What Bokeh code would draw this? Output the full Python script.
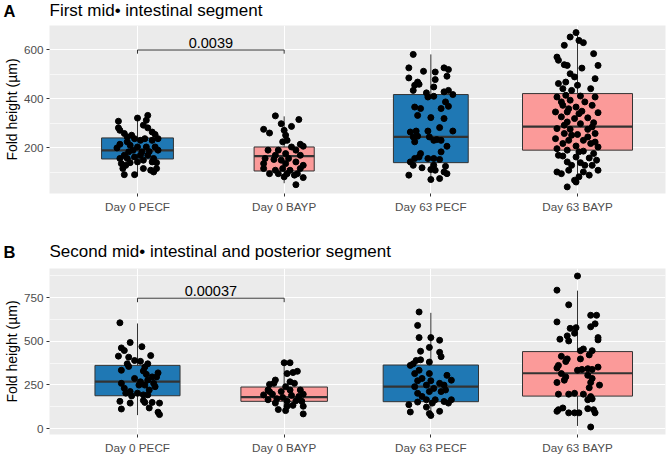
from bokeh.plotting import figure
from bokeh.layouts import column
from bokeh.models import ColumnDataSource, FixedTicker, Range1d
from bokeh.embed import file_html
from bokeh.resources import INLINE
from bokeh.core.properties import value

groups = ["Day 0 PECF", "Day 0 BAYP", "Day 63 PECF", "Day 63 BAYP"]
group_fill = ["#1F78B4", "#FB9A99", "#1F78B4", "#FB9A99"]

# ---------------- Panel A: First mid-intestinal segment ----------------
a_letter = "A"
a_title = "First mid\u2022 intestinal segment"
a_q1 = [155, 106, 140, 191]
a_med = [190, 167, 245, 287]
a_q3 = [241, 204, 418, 422]
a_lo = [84, 56, 72, 48]
a_hi = [317, 329, 582, 667]
a_box_w = [0.49, 0.41, 0.51, 0.75]
a_yticks = [200, 400, 600]
a_yminor = [100, 300, 500, 700]
a_pval = "0.0039"
a_bracket_y = 600

a_day0_pecf = [(0.07, 333), (0.06, 313), (0.00, 322), (-0.13, 309), (-0.13, 282), (-0.12, 272), (0.07, 282),
               (0.04, 293), (0.10, 265), (-0.09, 259), (-0.07, 245), (-0.04, 252), (-0.02, 238), (-0.07, 225),
               (-0.05, 211), (0.02, 231), (0.05, 238), (0.10, 231), (0.14, 238), (0.00, 204), (-0.03, 191),
               (-0.06, 184), (0.03, 184), (0.06, 204), (0.12, 204), (0.14, 191), (-0.09, 170), (-0.12, 157),
               (-0.07, 157), (-0.02, 163), (0.02, 170), (0.07, 170), (0.11, 157), (-0.11, 136), (-0.08, 129),
               (-0.05, 140), (0.00, 143), (0.04, 150), (0.10, 143), (0.13, 140), (-0.10, 116), (0.04, 116),
               (0.09, 109), (0.11, 102), (0.13, 116), (-0.09, 91), (-0.02, 91), (-0.14, 200), (-0.12, 215),
               (0.12, 255), (0.08, 185)]
a_day0_bayp = [(-0.06, 331), (0.10, 316), (-0.02, 299), (0.05, 288), (-0.14, 276), (-0.10, 261), (0.00, 272),
               (0.01, 252), (-0.01, 225), (0.02, 231), (0.11, 215), (0.13, 207), (0.05, 204), (-0.11, 191),
               (-0.04, 191), (0.08, 191), (0.01, 177), (-0.06, 170), (0.11, 170), (-0.13, 157), (-0.07, 153),
               (0.03, 157), (-0.02, 150), (0.08, 143), (-0.14, 136), (0.01, 136), (0.13, 129), (-0.14, 116),
               (-0.06, 109), (-0.01, 116), (0.04, 109), (0.11, 116), (-0.10, 95), (-0.04, 95), (0.02, 95),
               (0.07, 89), (0.09, 95), (0.00, 82), (0.13, 79), (0.08, 50)]
a_day63_pecf = [(-0.12, 582), (-0.15, 527), (-0.05, 513), (0.09, 527), (0.12, 520), (0.03, 510), (-0.15, 486),
                (0.11, 493), (0.03, 479), (-0.09, 469), (-0.11, 456), (-0.08, 460), (0.02, 449), (-0.12, 435),
                (-0.03, 425), (0.09, 429), (0.12, 435), (0.15, 418), (-0.02, 408), (0.02, 411), (0.10, 388),
                (-0.11, 367), (-0.07, 361), (0.07, 361), (0.12, 370), (-0.09, 333), (0.00, 324), (0.09, 320),
                (0.06, 283), (-0.14, 265), (-0.10, 269), (-0.02, 269), (0.15, 269), (-0.12, 245), (-0.09, 248),
                (-0.01, 245), (0.04, 234), (0.02, 231), (0.07, 231), (-0.11, 225), (0.11, 207), (-0.07, 177),
                (0.07, 184), (-0.11, 157), (-0.14, 143), (-0.08, 163), (-0.02, 157), (0.02, 157), (0.06, 153),
                (-0.12, 129), (-0.06, 119), (0.02, 129), (0.10, 125), (-0.15, 89), (0.00, 112), (0.03, 109),
                (0.09, 102), (0.06, 75), (0.00, 71), (0.11, 95)]
a_day63_bayp = [(-0.01, 671), (-0.05, 653), (0.01, 639), (0.04, 630), (-0.09, 619), (0.11, 585), (-0.14, 571),
                (-0.13, 558), (-0.07, 537), (-0.09, 540), (0.03, 526), (0.14, 537), (-0.05, 503), (-0.02, 490),
                (0.12, 483), (-0.13, 463), (-0.08, 469), (0.00, 456), (-0.10, 442), (-0.04, 435), (0.09, 442),
                (-0.08, 415), (0.02, 412), (-0.14, 408), (0.12, 408), (-0.05, 395), (0.05, 388), (-0.10, 374),
                (0.10, 374), (-0.01, 367), (-0.15, 347), (-0.07, 347), (0.03, 350), (0.14, 344), (-0.11, 327),
                (-0.02, 320), (0.07, 323), (-0.07, 306), (0.02, 299), (0.11, 303), (-0.14, 279), (-0.05, 276),
                (0.07, 276), (-0.09, 259), (0.00, 255), (0.12, 259), (-0.15, 238), (-0.06, 231), (0.04, 231),
                (-0.10, 218), (0.09, 218), (-0.01, 208), (0.14, 204), (-0.14, 197), (-0.07, 191), (0.04, 187),
                (0.11, 177), (-0.10, 167), (-0.01, 163), (0.08, 159), (0.13, 150), (-0.07, 143), (0.02, 140),
                (0.10, 129), (-0.14, 102), (-0.06, 109), (0.04, 102), (0.14, 109), (-0.11, 95), (0.01, 82),
                (0.08, 89), (-0.01, 61), (-0.07, 41), (-0.02, 68), (-0.11, 388), (0.01, 340), (-0.09, 293),
                (0.10, 286), (-0.04, 252), (0.07, 245), (0.01, 184), (-0.13, 170), (0.05, 129), (-0.04, 129),
                (0.12, 224), (-0.06, 360)]

# ---------------- Panel B: Second mid-intestinal and posterior segment ----------------
b_letter = "B"
b_title = "Second mid\u2022 intestinal and posterior segment"
b_q1 = [188, 156, 154, 186]
b_med = [269, 180, 240, 317]
b_q3 = [362, 238, 364, 441]
b_lo = [77, 86, 75, 15]
b_hi = [602, 383, 663, 790]
b_box_w = [0.58, 0.59, 0.65, 0.75]
b_yticks = [0, 250, 500, 750]
b_yminor = [125, 375, 625, 875]
b_pval = "0.00037"
b_bracket_y = 747

b_day0_pecf = [(-0.12, 606), (-0.05, 493), (0.03, 469), (-0.11, 462), (-0.13, 415), (-0.09, 447), (-0.06, 409),
               (0.09, 418), (-0.02, 390), (0.02, 385), (-0.07, 371), (0.07, 371), (-0.06, 356), (0.05, 353),
               (-0.11, 334), (0.04, 330), (0.06, 311), (0.14, 319), (-0.02, 287), (0.10, 296), (0.13, 296),
               (0.02, 268), (0.07, 278), (0.11, 259), (-0.11, 259), (0.01, 249), (0.05, 249), (-0.09, 231),
               (0.12, 240), (-0.05, 212), (0.08, 221), (-0.08, 203), (0.00, 203), (0.04, 193), (-0.04, 187),
               (0.07, 193), (-0.12, 156), (-0.05, 146), (0.04, 161), (0.10, 150), (0.15, 146), (-0.11, 112),
               (0.05, 150), (0.08, 118), (0.14, 94), (0.15, 80)]
b_day0_bayp = [(0.00, 377), (0.04, 377), (0.02, 315), (0.06, 321), (0.09, 328), (-0.06, 278), (-0.07, 259),
               (0.04, 268), (0.07, 259), (-0.10, 253), (0.01, 240), (-0.11, 221), (-0.02, 212), (0.04, 221),
               (0.11, 221), (-0.14, 193), (-0.08, 197), (-0.01, 178), (0.05, 190), (0.10, 184), (0.13, 197),
               (-0.11, 165), (-0.05, 171), (0.02, 156), (0.08, 159), (0.12, 156), (0.02, 128), (0.06, 133),
               (-0.04, 109), (0.13, 128), (0.01, 103), (0.13, 84), (-0.10, 212), (-0.06, 146)]
b_day63_pecf = [(-0.08, 668), (-0.09, 591), (-0.08, 521), (0.00, 521), (0.06, 506), (-0.01, 465), (-0.07, 443),
                (0.06, 437), (0.07, 412), (-0.10, 390), (-0.07, 394), (-0.01, 381), (-0.14, 362), (-0.12, 371),
                (-0.08, 334), (-0.11, 315), (-0.01, 315), (0.11, 305), (-0.06, 287), (0.00, 274), (0.14, 277),
                (-0.09, 274), (0.06, 259), (0.09, 249), (-0.11, 240), (-0.03, 249), (0.02, 230), (0.10, 221),
                (-0.09, 202), (-0.01, 212), (0.07, 212), (-0.06, 184), (0.14, 165), (-0.09, 152), (-0.03, 165),
                (0.03, 165), (0.09, 155), (-0.15, 137), (0.01, 146), (-0.03, 123), (0.06, 99), (-0.14, 95),
                (-0.01, 86), (0.00, 75), (0.12, 146)]
b_day63_bayp = [(0.00, 874), (-0.14, 793), (-0.06, 709), (0.09, 649), (0.13, 649), (-0.14, 611), (0.12, 600),
                (0.09, 583), (-0.05, 574), (-0.01, 578), (-0.02, 546), (-0.07, 531), (-0.12, 512), (0.14, 521),
                (0.14, 508), (-0.06, 502), (0.04, 456), (0.02, 446), (0.10, 446), (0.08, 422), (-0.11, 414),
                (-0.07, 399), (0.02, 399), (-0.08, 384), (-0.13, 362), (-0.14, 347), (0.14, 352), (0.00, 334),
                (0.03, 339), (0.07, 343), (0.10, 339), (-0.11, 315), (-0.08, 296), (0.07, 305), (0.10, 287),
                (-0.14, 264), (-0.09, 277), (0.09, 264), (0.15, 249), (0.08, 234), (-0.13, 197), (-0.06, 197),
                (-0.02, 202), (0.04, 197), (0.09, 183), (0.07, 165), (0.10, 170), (-0.10, 118), (-0.14, 99),
                (-0.06, 90), (-0.02, 90), (0.01, 90), (0.07, 114), (0.11, 108), (0.12, 90), (-0.13, 108),
                (0.09, 9)]

FONT = "Liberation Sans"
W = 667


def make_header(letter, title, height, center):
    # the panel letter is drawn as the header's own (tick-less) y-axis label, the title as text
    h = figure(width=W, height=height, output_backend="svg", toolbar_location=None,
               x_range=Range1d(0, 1), y_range=Range1d(height, 0),
               x_axis_location=None, y_axis_location="left", min_border=0,
               min_border_left=0, min_border_right=0, min_border_top=0, min_border_bottom=0)
    h.title = None
    h.grid.visible = False
    h.outline_line_color = None
    h.background_fill_color = "white"
    h.border_fill_color = "white"
    ax = h.yaxis[0]
    ax.ticker = FixedTicker(ticks=[center])
    ax.major_label_overrides = {center: letter}
    ax.axis_line_color = None
    ax.major_tick_line_color = None
    ax.minor_tick_line_color = None
    ax.major_tick_in = 0
    ax.major_tick_out = 0
    ax.major_label_standoff = 34
    ax.major_label_text_font = FONT
    ax.major_label_text_font_size = "16.5px"
    ax.major_label_text_font_style = "bold"
    ax.major_label_text_color = "black"
    h.text(x=[0], y=[center], text=[title], text_font=value(FONT), text_font_size="17px",
           text_align="left", text_baseline="middle", text_color="black")
    return h


def make_panel(q1, med, q3, lo, hi, box_w, pts_groups, yticks, minor, yrange,
               pval, bracket_y, tip, pval_pad, height, top, bottom):
    p = figure(width=W, height=height, output_backend="svg", toolbar_location=None,
               x_range=Range1d(0.4, 4.6), y_range=Range1d(*yrange),
               min_border_left=44, min_border_right=2, min_border_top=top, min_border_bottom=bottom)
    p.title = None
    p.background_fill_color = "#EBEBEB"
    p.border_fill_color = "white"
    p.outline_line_color = None

    p.xaxis.ticker = FixedTicker(ticks=[1, 2, 3, 4])
    p.xaxis.major_label_overrides = {i + 1: g for i, g in enumerate(groups)}
    p.yaxis.ticker = FixedTicker(ticks=yticks, minor_ticks=minor)
    for ax in (p.xaxis[0], p.yaxis[0]):
        ax.axis_line_color = None
        ax.major_tick_in = 0
        ax.major_tick_out = 3
        ax.major_tick_line_color = "#333333"
        ax.minor_tick_line_color = None
        ax.major_label_text_font = FONT
        ax.major_label_text_font_size = "11.7px"
        ax.major_label_text_color = "#4D4D4D"
        ax.major_label_standoff = 2
    p.xaxis.major_label_standoff = 3
    p.yaxis.axis_label = "Fold height (\u00b5m)"
    p.yaxis.axis_label_text_font = FONT
    p.yaxis.axis_label_text_font_size = "14px"
    p.yaxis.axis_label_text_font_style = "normal"
    p.yaxis.axis_label_text_color = "black"
    p.yaxis.axis_label_standoff = 1

    p.xgrid.grid_line_color = "white"
    p.xgrid.grid_line_width = 1.1
    p.ygrid.grid_line_color = "white"
    p.ygrid.grid_line_width = 1.1
    p.ygrid.minor_grid_line_color = "white"
    p.ygrid.minor_grid_line_width = 0.6

    xc = [i + 1 for i in range(len(groups))]
    box = ColumnDataSource(dict(
        x=xc, left=[c - w / 2 for c, w in zip(xc, box_w)], right=[c + w / 2 for c, w in zip(xc, box_w)],
        q1=q1, med=med, q3=q3, lo=lo, hi=hi, fill=group_fill))
    p.segment(x0="x", x1="x", y0="q3", y1="hi", source=box, line_color="#333333", line_width=1)
    p.segment(x0="x", x1="x", y0="q1", y1="lo", source=box, line_color="#333333", line_width=1)
    p.quad(left="left", right="right", bottom="q1", top="q3", source=box, fill_color="fill",
           line_color="#333333", line_width=1)
    p.segment(x0="left", x1="right", y0="med", y1="med", source=box, line_color="#333333", line_width=2.2)

    px, py = [], []
    for gi, pts in enumerate(pts_groups):
        for dx, v in pts:
            px.append(gi + 1 + dx)
            py.append(v)
    p.scatter(px, py, size=6, color="black")

    # significance bracket between group 1 and group 2
    p.line([1, 1, 2, 2], [bracket_y - tip, bracket_y, bracket_y, bracket_y - tip],
           line_color="#333333", line_width=1)
    p.text(x=[1.5], y=[bracket_y + pval_pad], text=[pval], text_align="center",
           text_baseline="middle", text_font=value(FONT), text_font_size="14.5px", text_color="black")
    return p


hA = make_header(a_letter, a_title, height=25, center=10)
pA = make_panel(a_q1, a_med, a_q3, a_lo, a_hi, a_box_w,
                [a_day0_pecf, a_day0_bayp, a_day63_pecf, a_day63_bayp], a_yticks, a_yminor,
                (14, 700), a_pval, a_bracket_y, 15, 29, height=203, top=0, bottom=35)
hB = make_header(b_letter, b_title, height=34, center=23)
pB = make_panel(b_q1, b_med, b_q3, b_lo, b_hi, b_box_w,
                [b_day0_pecf, b_day0_bayp, b_day63_pecf, b_day63_bayp], b_yticks, b_yminor,
                (-34, 917), b_pval, b_bracket_y, 23, 39, height=194, top=6, bottom=19)

layout = column(hA, pA, hB, pB, spacing=0)
open("out.html", "w").write(file_html(layout, INLINE))
